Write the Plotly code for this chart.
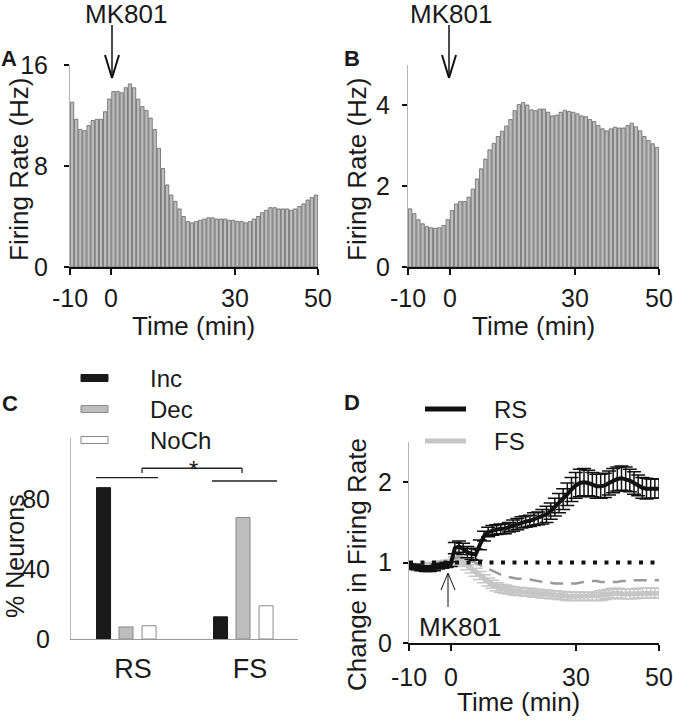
import numpy as np
import plotly.graph_objects as go

W, H = 673, 720
FONT = "Liberation Sans, Arial, Helvetica, sans-serif"
TXT = "#1a1a1a"

# ---------------- data ----------------
BIN_START = -10          # first 1-min bin start (min)
BIN_WIDTH = 1.0          # min
# Panel A: example neuron firing rate (Hz), 1-min bins from -10 to 50 min
A_RATE = [13.05, 11.7, 10.9, 10.8, 11.2, 11.6, 11.7, 11.7, 12.3, 13.3,
          13.9, 13.9, 13.8, 14.2, 14.5, 14.2, 13.3, 12.7, 12.4, 11.8,
          10.9, 9.4, 7.8, 6.5, 5.7, 5.2, 4.6, 4.0, 3.6, 3.5,
          3.6, 3.7, 3.8, 3.9, 3.9, 3.8, 3.8, 3.8, 3.7, 3.7,
          3.6, 3.6, 3.5, 3.6, 3.8, 4.0, 4.3, 4.5, 4.7, 4.7,
          4.6, 4.6, 4.6, 4.5, 4.6, 4.8, 5.0, 5.3, 5.5, 5.7]
# Panel B: example neuron firing rate (Hz)
B_RATE = [1.44, 1.32, 1.17, 1.07, 1.00, 0.97, 0.96, 0.97, 1.03, 1.17,
          1.40, 1.56, 1.62, 1.62, 1.73, 1.93, 2.18, 2.43, 2.67, 2.90,
          3.06, 3.23, 3.36, 3.49, 3.65, 3.87, 4.02, 4.07, 4.01, 3.89,
          3.87, 3.91, 3.91, 3.83, 3.74, 3.76, 3.83, 3.88, 3.85, 3.83,
          3.79, 3.74, 3.72, 3.65, 3.60, 3.50, 3.42, 3.37, 3.42, 3.46,
          3.44, 3.44, 3.50, 3.56, 3.47, 3.37, 3.23, 3.13, 3.05, 2.96]

# Panel C: % neurons per response class
C_GROUPS = ["RS", "FS"]
C_CLASSES = ["Inc", "Dec", "NoCh"]
C_INC = [86.6, 12.7]
C_DEC = [6.9, 69.5]
C_NOCH = [7.6, 19.0]

# Panel D: normalised change in firing rate, 1-min samples from -10 to 50 min
D_TIME = list(range(-10, 51))
RS_MEAN = [0.95, 0.95, 0.94, 0.93, 0.92, 0.92, 0.93, 0.95, 0.96, 0.97,
           0.98, 1.18, 1.20, 1.17, 1.13, 1.11, 1.10, 1.22, 1.33, 1.38,
           1.40, 1.41, 1.42, 1.42, 1.44, 1.46, 1.48, 1.50, 1.51, 1.52,
           1.54, 1.55, 1.57, 1.60, 1.64, 1.69, 1.74, 1.79, 1.85, 1.91,
           1.96, 1.99, 2.00, 1.99, 1.97, 1.95, 1.95, 1.96, 1.99, 2.02,
           2.04, 2.05, 2.04, 2.02, 1.99, 1.96, 1.93, 1.92, 1.92, 1.92,
           1.92]
RS_SEM = [0.03, 0.03, 0.03, 0.03, 0.03, 0.03, 0.03, 0.03, 0.03, 0.03,
          0.03, 0.07, 0.07, 0.07, 0.07, 0.07, 0.07, 0.06, 0.06, 0.06,
          0.06, 0.06, 0.06, 0.06, 0.06, 0.07, 0.07, 0.07, 0.07, 0.07,
          0.08, 0.08, 0.09, 0.10, 0.10, 0.11, 0.12, 0.13, 0.14, 0.15,
          0.16, 0.17, 0.17, 0.16, 0.15, 0.15, 0.15, 0.15, 0.15, 0.15,
          0.15, 0.15, 0.15, 0.14, 0.14, 0.13, 0.13, 0.13, 0.12, 0.12,
          0.12]
FS_MEAN = [0.95, 0.95, 0.94, 0.94, 0.95, 0.96, 0.96, 0.97, 0.98, 0.99,
           1.00, 1.02, 1.03, 1.00, 0.96, 0.92, 0.88, 0.84, 0.80, 0.76,
           0.73, 0.70, 0.68, 0.67, 0.66, 0.65, 0.64, 0.64, 0.63, 0.63,
           0.62, 0.62, 0.61, 0.61, 0.60, 0.60, 0.59, 0.59, 0.58, 0.58,
           0.58, 0.58, 0.58, 0.58, 0.58, 0.58, 0.59, 0.60, 0.61, 0.62,
           0.62, 0.61, 0.61, 0.61, 0.61, 0.62, 0.62, 0.62, 0.62, 0.62,
           0.62]
FS_SEM = [0.04, 0.04, 0.04, 0.04, 0.04, 0.04, 0.04, 0.04, 0.04, 0.04,
          0.04, 0.05, 0.05, 0.05, 0.05, 0.05, 0.05, 0.05, 0.05, 0.05,
          0.05, 0.05, 0.05, 0.05, 0.05, 0.05, 0.05, 0.05, 0.05, 0.05,
          0.05, 0.05, 0.05, 0.05, 0.05, 0.05, 0.05, 0.05, 0.05, 0.05,
          0.05, 0.05, 0.05, 0.05, 0.05, 0.05, 0.06, 0.06, 0.06, 0.06,
          0.06, 0.06, 0.06, 0.06, 0.06, 0.06, 0.06, 0.06, 0.06, 0.06,
          0.06]
FS_ALT = [0.98, 0.98, 0.97, 0.97, 0.98, 0.98, 0.99, 1.00, 1.01, 1.02,
          1.04, 1.06, 1.07, 1.06, 1.04, 1.02, 1.00, 0.97, 0.94, 0.92,
          0.90, 0.87, 0.85, 0.83, 0.82, 0.81, 0.80, 0.80, 0.79, 0.79,
          0.78, 0.77, 0.76, 0.75, 0.75, 0.74, 0.74, 0.74, 0.74, 0.74,
          0.74, 0.75, 0.76, 0.77, 0.77, 0.77, 0.76, 0.76, 0.76, 0.76,
          0.76, 0.77, 0.77, 0.77, 0.78, 0.78, 0.78, 0.78, 0.78, 0.78,
          0.78]
BASELINE = [1.0, 1.0]
BASELINE_T = [-10, 50]

TIME_TICKS = [-10, 0, 30, 50]
TIME_TICK_TEXT = ["-10", "0", "30", "50"]

# ---------------- helpers ----------------
def fx(p):
    return p / W


def fy(p):
    return 1 - p / H


centers = BIN_START + BIN_WIDTH * (np.arange(len(A_RATE)) + 0.5)

fig = go.Figure()

bar_style = dict(color="#bdbdbd", line=dict(color="#666666", width=0.8))
fig.add_trace(go.Bar(x=centers, y=A_RATE, width=0.8 * BIN_WIDTH, marker=bar_style,
                     xaxis="x", yaxis="y", showlegend=False))
centersB = BIN_START + BIN_WIDTH * (np.arange(len(B_RATE)) + 0.5)
fig.add_trace(go.Bar(x=centersB, y=B_RATE, width=0.8 * BIN_WIDTH, marker=bar_style,
                     xaxis="x2", yaxis="y2", showlegend=False))

# Panel C
gpos = list(range(len(C_GROUPS)))
c_cols = ["#1a1a1a", "#bdbdbd", "#ffffff"]
c_line = ["#1a1a1a", "#8a8a8a", "#8a8a8a"]
c_off = [-0.252, -0.06, 0.137]
for vals, col, lc, off, name in zip([C_INC, C_DEC, C_NOCH], c_cols, c_line, c_off, C_CLASSES):
    fig.add_trace(go.Bar(x=gpos, y=vals, width=0.12, offset=off - 0.06,
                         marker=dict(color=col, line=dict(color=lc, width=1)),
                         xaxis="x3", yaxis="y3", name=name, showlegend=False))

# Panel D
fig.add_trace(go.Scatter(x=D_TIME, y=FS_MEAN, mode="lines",
                         line=dict(color="#c6c6c6", width=5),
                         error_y=dict(type="data", array=FS_SEM, color="#c6c6c6",
                                      thickness=1.5, width=7),
                         xaxis="x4", yaxis="y4", showlegend=False))
fig.add_trace(go.Scatter(x=D_TIME, y=FS_ALT, mode="lines",
                         line=dict(color="#999999", width=2.5, dash="13px,8px"),
                         xaxis="x4", yaxis="y4", showlegend=False))
fig.add_trace(go.Scatter(x=D_TIME, y=RS_MEAN, mode="lines",
                         line=dict(color="#111111", width=4),
                         error_y=dict(type="data", array=RS_SEM, color="#111111",
                                      thickness=1.5, width=7),
                         xaxis="x4", yaxis="y4", showlegend=False))
fig.add_trace(go.Scatter(x=BASELINE_T, y=BASELINE, mode="lines",
                         line=dict(color="#111111", width=4, dash="4px,7.5px"),
                         xaxis="x4", yaxis="y4", showlegend=False))

tickfont = dict(family=FONT, size=25, color=TXT)


def xax(domain, rng, tickvals, ticktext, ticks=True, linecolor="#111111", labels=False):
    return dict(domain=domain, range=rng, tickvals=tickvals, ticktext=ticktext,
                showgrid=False, zeroline=False, automargin=False, showticklabels=labels,
                showline=True, linecolor=linecolor, linewidth=1.5,
                ticks="outside" if ticks else "", ticklen=6, tickwidth=2, tickcolor="#111111",
                tickfont=tickfont, ticklabelstandoff=7, fixedrange=True)


def yax(domain, rng, tickvals, anchor, ticks=True, standoff=6):
    return dict(domain=domain, range=rng, tickvals=tickvals, showgrid=False, zeroline=False,
                automargin=False,
                showline=True, linecolor="#b5b5b5", linewidth=1, anchor=anchor,
                ticks="outside" if ticks else "", ticklen=5, tickwidth=2, tickcolor="#111111",
                tickfont=tickfont, ticklabelstandoff=standoff, fixedrange=True)


fig.update_layout(
    width=W, height=H, margin=dict(l=0, r=0, t=0, b=0, autoexpand=False),
    paper_bgcolor="white", plot_bgcolor="white", barmode="overlay",
    font=dict(family=FONT, color=TXT),
    xaxis=xax([fx(70), fx(318)], [-10, 50], TIME_TICKS, TIME_TICK_TEXT) | dict(anchor="y"),
    yaxis=yax([fy(267), fy(65)], [0, 16], [0, 8, 16], "x", standoff=11),
    xaxis2=xax([fx(408), fx(659)], [-10, 50], TIME_TICKS, TIME_TICK_TEXT) | dict(anchor="y2"),
    yaxis2=yax([fy(267), fy(65)], [0, 5], [0, 2, 4], "x2", standoff=7),
    xaxis3=xax([fx(71), fx(298)], [-0.53, 1.41], gpos, C_GROUPS, ticks=False,
               linecolor="#9a9a9a", labels=True)
    | dict(anchor="y3", linewidth=1,
           tickfont=dict(family=FONT, size=27, color=TXT), ticklabelstandoff=6),
    yaxis3=yax([fy(639), fy(438)], [0, 115], [0, 40, 80], "x3", ticks=False, standoff=15),
    xaxis4=xax([fx(409), fx(659)], [-10, 50], TIME_TICKS, TIME_TICK_TEXT) | dict(anchor="y4"),
    yaxis4=yax([fy(643), fy(442)], [0, 2.5], [0, 1, 2], "x4", standoff=6),
)

ann = []
shapes = []


def text(x, y, s, size=26, xanchor="center", angle=0, bold=False):
    ann.append(dict(x=fx(x), y=fy(y), xref="paper", yref="paper", text=f"<b>{s}</b>" if bold else s,
                    showarrow=False, xanchor=xanchor, yanchor="middle", textangle=angle,
                    font=dict(family=FONT, size=size, color=TXT)))


def seg(x0, y0, x1, y1, color="#111111", width=1.5):
    shapes.append(dict(type="line", xref="paper", yref="paper", x0=fx(x0), y0=fy(y0),
                       x1=fx(x1), y1=fy(y1), line=dict(color=color, width=width)))


# x tick labels of the time axes (placed at the axis tick values)
for xref, ypix in [("x", 298), ("x2", 298), ("x4", 677)]:
    for v, s in zip(TIME_TICKS, TIME_TICK_TEXT):
        ann.append(dict(x=v, y=fy(ypix), xref=xref, yref="paper", text=s, showarrow=False,
                        xanchor="center", yanchor="middle", font=tickfont))

# Panel letters
text(9, 58, "A", 22, bold=True)
text(352, 58, "B", 22, bold=True)
text(10, 403, "C", 22, bold=True)
text(352, 402, "D", 22, bold=True)

# Axis titles
text(19, 170, "Firing Rate (Hz)", 26, angle=-90)
text(194, 326, "Time (min)", 26)
text(357, 170, "Firing Rate (Hz)", 26, angle=-90)
text(533, 326, "Time (min)", 26)
text(15, 556, "% Neurons", 25, angle=-90)
text(357, 565, "Change in Firing Rate", 26, angle=-90)
text(518, 702, "Time (min)", 26)

# MK801 arrows (A, B)
for cx, tx in [(112, 126), (449, 451)]:
    text(tx, 14, "MK801", 26)
    seg(cx, 25, cx, 77, width=1.5)
    seg(cx - 7, 55, cx, 78, width=2)
    seg(cx + 7, 55, cx, 78, width=2)

# MK801 arrow (D)
seg(448, 607, 448, 574, width=1)
seg(441, 590, 448, 573, width=1)
seg(455, 590, 448, 573, width=1)
text(460, 627, "MK801", 26)

# Panel C legend
for (yc, col, lc, name) in zip([378, 409, 440], c_cols, c_line, C_CLASSES):
    shapes.append(dict(type="rect", xref="paper", yref="paper", x0=fx(81), x1=fx(108),
                       y0=fy(yc + 3.5), y1=fy(yc - 3.5), fillcolor=col, line=dict(color=lc, width=1)))
    text(148, yc, name, 24, xanchor="left")


# Panel C significance marks (data coords)
def cseg(x0, y0, x1, y1):
    shapes.append(dict(type="line", xref="x3", yref="y3", x0=x0, y0=y0, x1=x1, y1=y1,
                       line=dict(color="#222222", width=1.3)))


cseg(-0.316, 92.3, 0.214, 92.3)
cseg(0.675, 90.4, 1.231, 90.4)
cseg(0.077, 97.7, 0.932, 97.7)
cseg(0.077, 97.7, 0.077, 95.0)
cseg(0.932, 97.7, 0.932, 95.0)
ann.append(dict(x=0.513, y=97.0, xref="x3", yref="y3", text="*", showarrow=False,
                yanchor="middle", font=dict(family=FONT, size=24, color=TXT)))

# Panel D legend
shapes.append(dict(type="line", xref="paper", yref="paper", x0=fx(425), x1=fx(466),
                   y0=fy(409), y1=fy(409), line=dict(color="#111111", width=5)))
shapes.append(dict(type="line", xref="paper", yref="paper", x0=fx(425), x1=fx(466),
                   y0=fy(441), y1=fy(441), line=dict(color="#c6c6c6", width=5)))
text(492, 409, "RS", 24, xanchor="left")
text(492, 441, "FS", 24, xanchor="left")

fig.update_layout(annotations=ann, shapes=shapes)
fig.write_html("out.html", config={"displayModeBar": False},
               post_script="document.body.style.margin='0';document.body.style.overflow='hidden';")
